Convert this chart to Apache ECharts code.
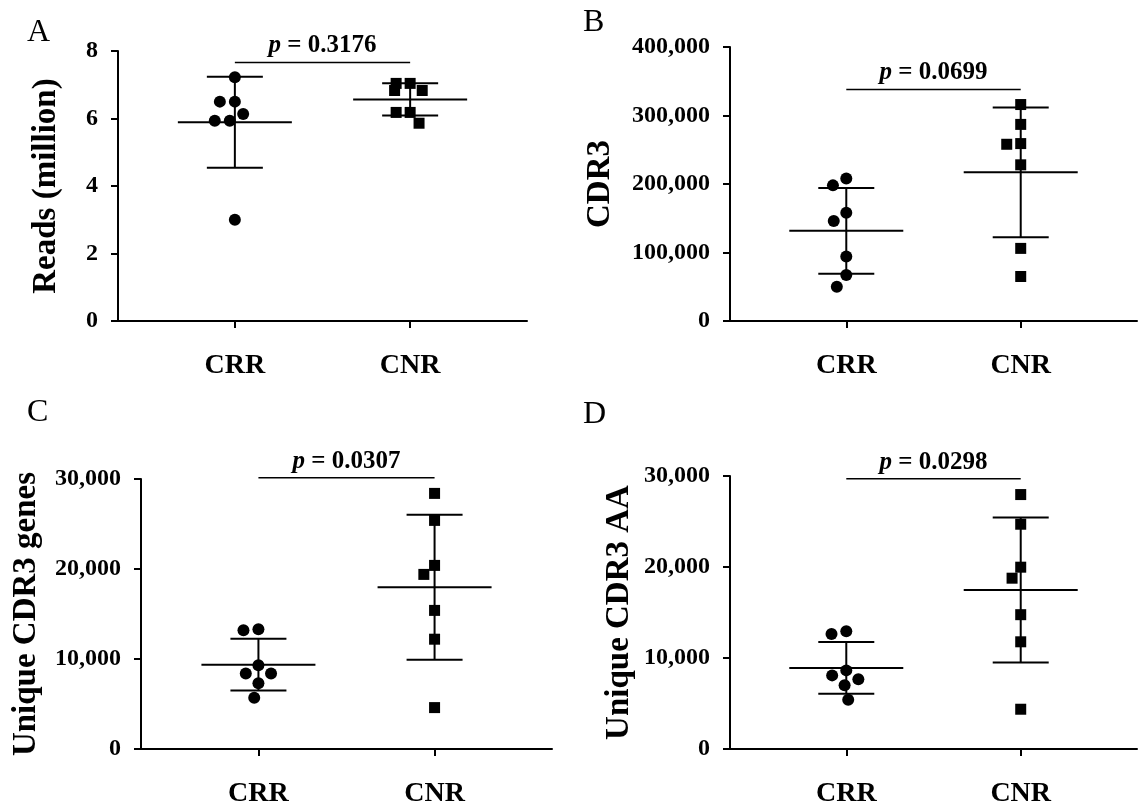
<!DOCTYPE html>
<html><head><meta charset="utf-8">
<script src="https://cdn.jsdelivr.net/npm/echarts@6/dist/echarts.min.js"></script>
<style>html,body{margin:0;padding:0;background:#fff}#c{width:1140px;height:808px}</style>
</head><body><div id="c"></div>
<script>
// ---- data ----
const categories = ['CRR', 'CNR'];
const readsCRR = [7.22, 6.50, 6.50, 6.13, 5.93, 5.93, 3.00];
const readsCNR = [7.04, 7.04, 6.83, 6.83, 6.18, 6.18, 5.86];
const cdr3CRR = [208000, 198000, 158000, 146000, 94000, 67000, 50000];
const cdr3CNR = [316000, 287000, 259000, 258000, 228000, 106000, 65000];
const genesCRR = [13300, 13200, 9300, 8400, 8400, 7300, 5700];
const genesCNR = [28400, 25400, 20400, 19400, 15400, 12200, 4600];
const aaCRR = [12940, 12650, 8640, 8090, 7660, 7000, 5400];
const aaCNR = [27960, 24700, 19980, 18770, 14760, 11780, 4370];
const pValues = ['0.3176', '0.0699', '0.0307', '0.0298'];
const bracketLevels = [7.66, 338000, 30150, 29700];
const panelLetters = ['A', 'B', 'C', 'D'];
const yTitles = ['Reads (million)', 'CDR3', 'Unique CDR3 genes', 'Unique CDR3 AA'];
const yMax = [8, 400000, 30000, 30000];
const yInterval = [2, 100000, 10000, 10000];

const panelData = [[readsCRR, readsCNR], [cdr3CRR, cdr3CNR], [genesCRR, genesCNR], [aaCRR, aaCNR]];

// ---- layout ----
const grids = [
  {left: 118, top: 51, width: 409, height: 270},
  {left: 730, top: 47, width: 415, height: 274},
  {left: 141, top: 479, width: 411, height: 270},
  {left: 730, top: 476, width: 415, height: 274}
];
const nameGaps = [55, 113, 98, 94];
const letterPos = [[27, 17], [583, 7], [27, 397], [583, 399]];
const FONT = '"Liberation Serif", "Times New Roman", serif';

// padded category axis so the two groups sit at 2/7 and 5/7 of the axis
const axisCats = ['_p0', '_p1', categories[0], '_p2', '_p3', categories[1], '_p4', '_p5'];
const isCat = v => categories.indexOf(v) >= 0;

function meanSd(arr) {
  const m = arr.reduce((a, b) => a + b, 0) / arr.length;
  const v = arr.reduce((a, b) => a + (b - m) * (b - m), 0) / (arr.length - 1);
  return [m, Math.sqrt(v)];
}

function errorBarItem(params, api) {
  const x = api.value(0), m = api.value(1), s = api.value(2);
  const c = api.coord([x, m]);
  const hi = api.coord([x, m + s]);
  const lo = api.coord([x, m - s]);
  const st = {stroke: '#000', lineWidth: 2};
  return {type: 'group', children: [
    {type: 'line', shape: {x1: c[0] - 57, y1: c[1], x2: c[0] + 57, y2: c[1]}, style: st},
    {type: 'line', shape: {x1: c[0], y1: hi[1], x2: c[0], y2: lo[1]}, style: st},
    {type: 'line', shape: {x1: c[0] - 28, y1: hi[1], x2: c[0] + 28, y2: hi[1]}, style: st},
    {type: 'line', shape: {x1: c[0] - 28, y1: lo[1], x2: c[0] + 28, y2: lo[1]}, style: st}
  ]};
}

function makeBracket(pText) {
  return function (params, api) {
    const lvl = api.value(1);
    const p1 = api.coord([axisCats.indexOf(categories[0]), lvl]);
    const p2 = api.coord([axisCats.indexOf(categories[1]), lvl]);
    return {type: 'group', children: [
      {type: 'line', shape: {x1: p1[0], y1: p1[1], x2: p2[0], y2: p2[1]}, style: {stroke: '#000', lineWidth: 1.5}},
      {type: 'text', x: (p1[0] + p2[0]) / 2, y: p1[1] - 4, style: {
        text: '{i|p}{b| = ' + pText + '}',
        align: 'center', verticalAlign: 'bottom',
        rich: {
          i: {fontFamily: FONT, fontStyle: 'italic', fontWeight: 'bold', fontSize: 25, fill: '#000'},
          b: {fontFamily: FONT, fontWeight: 'bold', fontSize: 25, fill: '#000'}
        }
      }}
    ]};
  };
}

const option = {
  animation: false,
  backgroundColor: '#fff',
  title: panelLetters.map((t, i) => ({
    text: t, left: letterPos[i][0], top: letterPos[i][1], padding: 0,
    textStyle: {fontFamily: FONT, fontWeight: 'normal', fontSize: 32, color: '#000'}
  })),
  grid: grids,
  xAxis: grids.map((g, i) => ({
    type: 'category', gridIndex: i, data: axisCats, boundaryGap: false,
    jitter: 58, jitterOverlap: false, jitterMargin: 3,
    axisLine: {show: true, lineStyle: {color: '#000', width: 2}},
    axisTick: {show: true, length: 7, interval: (idx, v) => isCat(v), lineStyle: {color: '#000', width: 2}},
    axisLabel: {interval: 0, formatter: v => isCat(v) ? v : '', margin: 31,
      fontFamily: FONT, fontWeight: 'bold', fontSize: 28, color: '#000'},
    splitLine: {show: false}
  })),
  yAxis: grids.map((g, i) => ({
    type: 'value', gridIndex: i, min: 0, max: yMax[i], interval: yInterval[i],
    name: yTitles[i], nameLocation: 'middle', nameRotate: 90, nameGap: nameGaps[i],
    nameTextStyle: {fontFamily: FONT, fontWeight: 'bold', fontSize: 33, color: '#000', lineHeight: 33},
    axisLine: {show: true, lineStyle: {color: '#000', width: 2}},
    axisTick: {show: true, length: 7, lineStyle: {color: '#000', width: 2}},
    axisLabel: {margin: 20, fontFamily: FONT, fontWeight: 'bold', fontSize: 24, color: '#000',
      formatter: v => v.toLocaleString('en-US')},
    splitLine: {show: false}
  })),
  series: []
};

panelData.forEach((pair, i) => {
  pair.forEach((vals, k) => {
    option.series.push({
      type: 'scatter', xAxisIndex: i, yAxisIndex: i,
      symbol: k === 0 ? 'circle' : 'rect', symbolSize: k === 0 ? 12 : 11,
      itemStyle: {color: '#000', opacity: 1}, emphasis: {disabled: true}, z: 3,
      data: vals.map(v => [categories[k], v])
    });
  });
  option.series.push({
    type: 'custom', xAxisIndex: i, yAxisIndex: i, renderItem: errorBarItem, z: 2,
    encode: {x: 0, y: 1},
    data: pair.map((vals, k) => { const ms = meanSd(vals); return [categories[k], ms[0], ms[1]]; })
  });
  option.series.push({
    type: 'custom', xAxisIndex: i, yAxisIndex: i, renderItem: makeBracket(pValues[i]), z: 2,
    encode: {x: 0, y: 1}, clip: false,
    data: [[categories[0], bracketLevels[i]]]
  });
});

const chart = echarts.init(document.getElementById('c'), null, {renderer: 'canvas'});
chart.setOption(option);
</script>
</body></html>
